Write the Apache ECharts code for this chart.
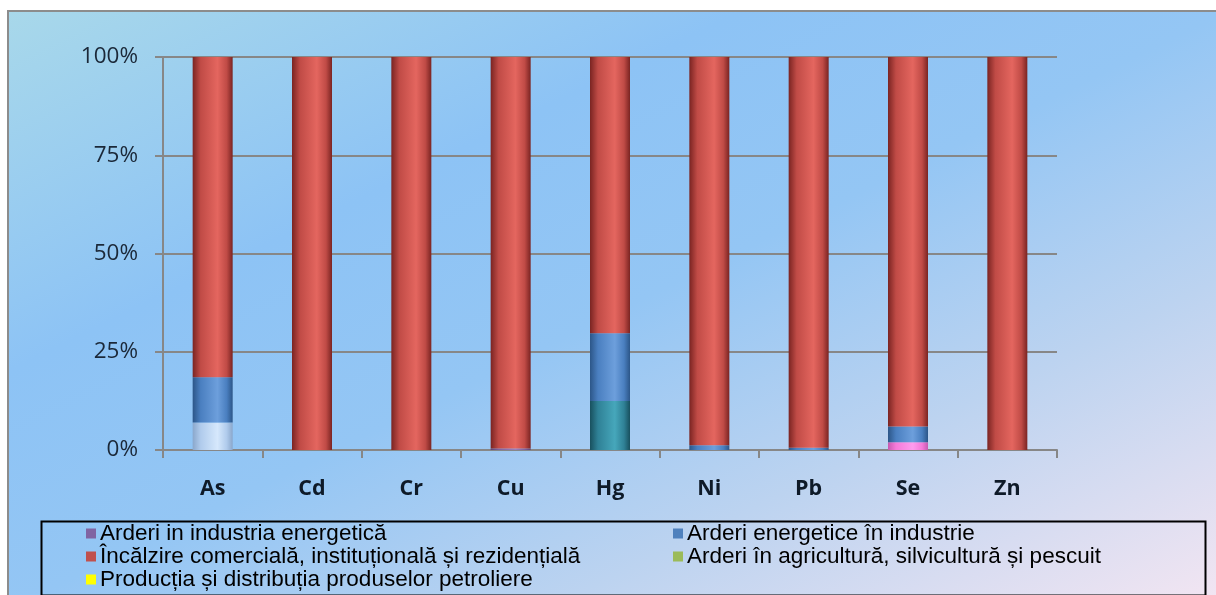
<!DOCTYPE html>
<html><head><meta charset="utf-8">
<script src="https://cdn.jsdelivr.net/npm/echarts@6/dist/echarts.min.js"></script>
<style>
html,body{margin:0;padding:0;background:#fff;width:1216px;height:595px;overflow:hidden}
#bg{position:absolute;left:7px;top:10px;width:1220px;height:600px;border-top:2px solid #8c8c8c;border-left:2px solid #8c8c8c;box-sizing:border-box;background:linear-gradient(to bottom right,#a8d8ea 0%,#8dc3f5 30%,#94c6f4 50%,#bcd3f0 72%,#f5e6f2 100%)}
#chart{position:absolute;left:0;top:0;width:1216px;height:595px}
</style></head><body><div id="bg"></div><div id="chart"></div>
<script>
const categories = ['As','Cd','Cr','Cu','Hg','Ni','Pb','Se','Zn'];
const yTickValues = [0, 25, 50, 75, 100];

const nameEnergetica = 'Arderi in industria energetică';
const nameIndustrie = 'Arderi energetice în industrie';
const nameIncalzire = 'Încălzire comercială, instituțională și rezidențială';
const nameAgricultura = 'Arderi în agricultură, silvicultură și pescuit';
const namePetroliere = 'Producția și distribuția produselor petroliere';
const nameAlteA = 'Alte surse (a)';
const nameAlteB = 'Alte surse (b)';
const nameAlteC = 'Alte surse (c)';

const alteA        = [7.0, 0, 0, 0,   0,    0,    0,    0,  0];
const alteB        = [0,   0, 0, 0,   12.5, 0,    0,    0,  0];
const alteC        = [0,   0, 0, 0,   0,    0,    0,    2,  0];
const energetica   = [0,   0, 0, 0.4, 0,    0,    0,    0,  0];
const industrie    = [11.5,0, 0, 0,   17.2, 1.2,  0.6,  4,  0];
const incalzire    = [81.5,100,100,99.6,70.3,98.8,99.4, 94, 100];
const agricultura  = [0,   0, 0, 0,   0,    0,    0,    0,  0];
const petroliere   = [0,   0, 0, 0,   0,    0,    0,    0,  0];

function cyl(dark, light, mid) {
  return new echarts.graphic.LinearGradient(0, 0, 1, 0, [
    {offset: 0, color: dark},
    {offset: 0.2, color: mid},
    {offset: 0.62, color: light},
    {offset: 0.85, color: mid},
    {offset: 1, color: dark}
  ]);
}
const cRed = cyl('#7a2422', '#e4665f', '#c04b46');
const cBlue = cyl('#2c5688', '#6d9fdc', '#4a7fc0');
const cLightBlue = cyl('#8aa7cb', '#d6e8fc', '#b0cbec');
const cTeal = cyl('#18505e', '#46a7bb', '#2f8196');
const cPink = cyl('#c659b0', '#ff9cee', '#f57ad9');
const cPurple = cyl('#5a4478', '#9a80bd', '#7d62a0');
const cGreen = cyl('#6a8a38', '#b2d070', '#9bbb59');
const cYellow = cyl('#c8c800', '#ffff66', '#ffff00');

function mk(name, data, color) {
  return {name, type: 'bar', stack: 'total', data, barWidth: 40, itemStyle: {color}, emphasis: {disabled: true}};
}

const chart = echarts.init(document.getElementById('chart'));
const legendText = {fontFamily: '"Liberation Sans", Arial, sans-serif', fontSize: 22.5, color: '#000', lineHeight: 21.5, padding: [0, 0, 0, -1]};
chart.setOption({
  animation: false,
  backgroundColor: 'transparent',
  grid: {left: 163, right: 159, top: 57, bottom: 145},
  xAxis: {
    type: 'category', data: categories,
    axisLine: {lineStyle: {color: '#878787', width: 2}},
    axisTick: {show: true, length: 8, lineStyle: {color: '#878787', width: 2}},
    axisLabel: {fontFamily: '"Open Sans", sans-serif', fontWeight: 'bold', fontSize: 21.5, color: '#0e1a28', margin: 28}
  },
  yAxis: {
    type: 'value', min: yTickValues[0], max: yTickValues[yTickValues.length - 1], interval: 25,
    axisLine: {show: true, lineStyle: {color: '#878787', width: 2}},
    axisTick: {show: true, length: 8, lineStyle: {color: '#878787', width: 2}},
    splitLine: {lineStyle: {color: '#878787', width: 2}},
    axisLabel: {formatter: v => v + '%', fontFamily: '"Open Sans", sans-serif', fontSize: 22.5, color: '#1b2838', margin: 25}
  },
  legend: [
    {orient: 'vertical', left: 86, top: 522, padding: 0, itemGap: 0, itemWidth: 10, itemHeight: 10, icon: 'rect',
     textStyle: legendText, selectedMode: false,
     data: [
       {name: nameEnergetica, itemStyle: {color: '#8064a2'}},
       {name: nameIncalzire, itemStyle: {color: '#c0504d'}},
       {name: namePetroliere, itemStyle: {color: '#ffff00'}}
     ]},
    {orient: 'vertical', left: 673, top: 522, padding: 0, itemGap: 0, itemWidth: 10, itemHeight: 10, icon: 'rect',
     textStyle: legendText, selectedMode: false,
     data: [
       {name: nameIndustrie, itemStyle: {color: '#4f81bd'}},
       {name: nameAgricultura, itemStyle: {color: '#9bbb59'}}
     ]}
  ],
  graphic: [{type: 'rect', left: 39, top: 519, shape: {width: 1164, height: 74}, style: {fill: 'none', stroke: '#000', lineWidth: 2}, silent: true}],
  series: [
    mk(nameAlteA, alteA, cLightBlue),
    mk(nameAlteB, alteB, cTeal),
    mk(nameAlteC, alteC, cPink),
    mk(nameEnergetica, energetica, cPurple),
    mk(nameIndustrie, industrie, cBlue),
    mk(nameIncalzire, incalzire, cRed),
    mk(nameAgricultura, agricultura, cGreen),
    mk(namePetroliere, petroliere, cYellow)
  ]
});
</script></body></html>
